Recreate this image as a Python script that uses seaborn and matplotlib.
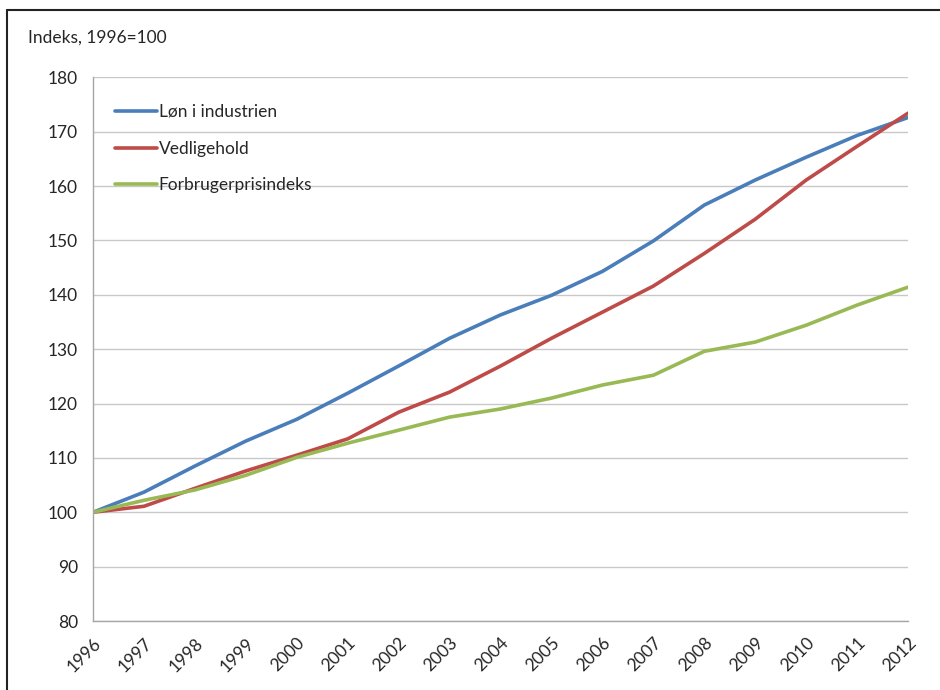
import matplotlib
matplotlib.use("Agg")
import matplotlib.pyplot as plt
import seaborn as sns
import pandas as pd
from matplotlib.lines import Line2D

years = list(range(1996, 2013))
lon_industri = [100, 103.7, 108.5, 113.1, 117.1, 121.9, 126.9, 132.0, 136.3,
                139.9, 144.3, 149.9, 156.5, 161.1, 165.3, 169.3, 172.6]
vedligehold = [100, 101.1, 104.4, 107.6, 110.5, 113.5, 118.4, 122.1, 126.9,
               132.0, 136.8, 141.6, 147.6, 153.9, 161.1, 167.3, 173.4]
forbrugerpris = [100, 102.2, 104.1, 106.8, 110.1, 112.7, 115.1, 117.5, 119.0,
                 121.0, 123.4, 125.2, 129.6, 131.3, 134.4, 138.1, 141.4]
series_names = ["Løn i industrien", "Vedligehold", "Forbrugerprisindeks"]
colors = ["#4A7EBB", "#BE4B48", "#98B954"]

df = pd.DataFrame({"år": years,
                   series_names[0]: lon_industri,
                   series_names[1]: vedligehold,
                   series_names[2]: forbrugerpris})
long = df.melt(id_vars="år", var_name="serie", value_name="indeks")

sns.set_style("white")
plt.rcParams["font.family"] = ["Lato", "DejaVu Sans"]

fig = plt.figure(figsize=(9.4, 6.9), dpi=100)
ax = fig.add_axes([0.099, 0.1, 0.867, 0.788])

sns.lineplot(data=long, x="år", y="indeks", hue="serie", hue_order=series_names,
             palette=colors, linewidth=2.6, ax=ax, legend=False)

ax.set_xlim(1996, 2012)
ax.set_ylim(80, 180)
ax.set_yticks(range(80, 181, 10))
ax.set_xticks(years)
ax.set_xticklabels([str(y) for y in years], rotation=45, ha="right",
                   rotation_mode="anchor", fontsize=12.5)
ax.tick_params(axis="y", labelsize=12.5, length=5, color="#A6A6A6", pad=6)
ax.tick_params(axis="x", length=6, color="#A6A6A6", pad=4)
ax.grid(axis="y", color="#C8C8C8", linewidth=1)
ax.set_axisbelow(True)
for s in ["top", "right"]:
    ax.spines[s].set_visible(False)
for s in ["left", "bottom"]:
    ax.spines[s].set_color("#A6A6A6")
    ax.spines[s].set_linewidth(1)
ax.set_xlabel("")
ax.set_ylabel("")

handles = [Line2D([0], [0], color=c, linewidth=2.6) for c in colors]
ax.legend(handles, series_names, loc="upper left", bbox_to_anchor=(0.008, 0.98),
          frameon=False, fontsize=12.5, handlelength=2.4, handletextpad=0.1,
          labelspacing=1.2)

fig.text(0.03, 0.945, "Indeks, 1996=100", fontsize=12.5, ha="left", va="center")

# outer frame (top and left edges visible)
fig.add_artist(Line2D([0.0075, 1.0], [0.986, 0.986], color="#222222", linewidth=1.5,
                      transform=fig.transFigure))
fig.add_artist(Line2D([0.0075, 0.0075], [0.0, 0.986], color="#222222", linewidth=1.5,
                      transform=fig.transFigure))

fig.savefig("out.png", dpi=100)
